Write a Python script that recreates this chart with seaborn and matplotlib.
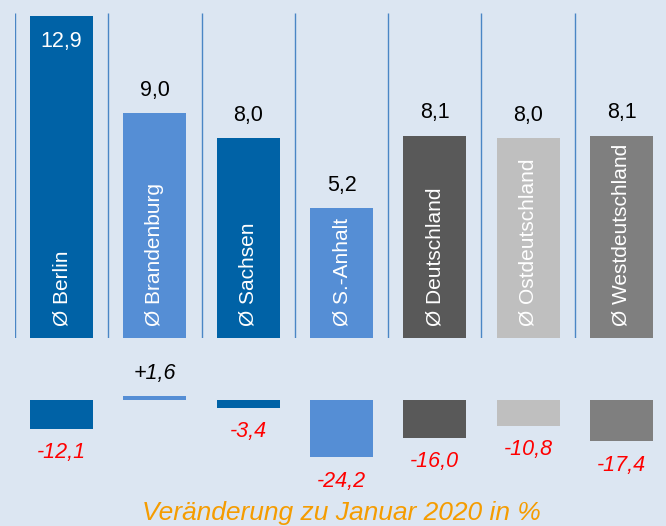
import matplotlib
matplotlib.use("Agg")
import matplotlib.pyplot as plt
import seaborn as sns
import pandas as pd

categories = ["Ø Berlin", "Ø Brandenburg", "Ø Sachsen", "Ø S.-Anhalt",
              "Ø Deutschland", "Ø Ostdeutschland", "Ø Westdeutschland"]
values = [12.9, 9.0, 8.0, 5.2, 8.1, 8.0, 8.1]
changes = [-12.1, 1.6, -3.4, -24.2, -16.0, -10.8, -17.4]
colors = ["#0062a6", "#558ed5", "#0062a6", "#558ed5", "#595959", "#bfbfbf", "#7f7f7f"]
caption = "Veränderung zu Januar 2020 in %"

def fmt(v, sign=False):
    s = f"{v:+.1f}" if sign else f"{v:.1f}"
    return s.replace(".", ",")

sns.set_theme(style="white")
plt.rcParams["font.family"] = ["Liberation Sans", "DejaVu Sans"]
bg = "#dce6f2"

W, H = 666, 526
fig = plt.figure(figsize=(W / 100, H / 100), dpi=100, facecolor=bg)

df = pd.DataFrame({"cat": categories, "val": values, "chg": changes})
pal = dict(zip(categories, colors))

unit = 93.3
xl = (-0.5, -0.5 + (W - 15) / unit)

# top axes
ppu = 24.96
top_px, bot_px = 8, 338
ax = fig.add_axes([15 / W, 1 - bot_px / H, (W - 15) / W, (bot_px - top_px) / H])
ax.set_facecolor(bg)
sns.barplot(data=df, x="cat", y="val", hue="cat", palette=pal, order=categories,
            hue_order=categories, width=0.675, legend=False, ax=ax, saturation=1,
            linewidth=0, edgecolor="none")
ax.set_xlim(*xl)
ax.set_ylim(0, (bot_px - top_px) / ppu)
ax.vlines([i - 0.5 for i in range(len(categories))], 0, 13.02,
          colors="#4a86c5", linewidth=1.0)
for i, (c, v) in enumerate(zip(categories, values)):
    if i == 0:
        ax.text(i, v - 0.62, fmt(v), ha="center", va="top", color="white", fontsize=15.5)
    else:
        ax.text(i, v + 0.5, fmt(v), ha="center", va="bottom", color="black", fontsize=15.5)
    ax.text(i, 0.48, c, rotation=90, ha="center", va="bottom",
            color="white", fontsize=15)
ax.axis("off")

# bottom axes
ppu2 = 2.37
t2, b2 = 350, 480
zero = 400
ax2 = fig.add_axes([15 / W, 1 - b2 / H, (W - 15) / W, (b2 - t2) / H])
ax2.set_facecolor(bg)
sns.barplot(data=df, x="cat", y="chg", hue="cat", palette=pal, order=categories,
            hue_order=categories, width=0.675, legend=False, ax=ax2, saturation=1,
            linewidth=0, edgecolor="none")
ax2.set_xlim(*xl)
ax2.set_ylim(-(b2 - zero) / ppu2, (zero - t2) / ppu2)
for i, v in enumerate(changes):
    if v < 0:
        ax2.text(i, v - 5.6, fmt(v), ha="center", va="top", color="#ff0000",
                 fontsize=15.5, style="italic")
    else:
        ax2.text(i, v + 5.3, fmt(v, sign=True), ha="center", va="bottom", color="black",
                 fontsize=15.5, style="italic")
ax2.axis("off")

fig.text(341 / W, 1 - 513 / H, caption, ha="center", va="center", color="#f59c00",
         fontsize=19, style="italic")

fig.savefig("out.png", dpi=100, facecolor=bg)
